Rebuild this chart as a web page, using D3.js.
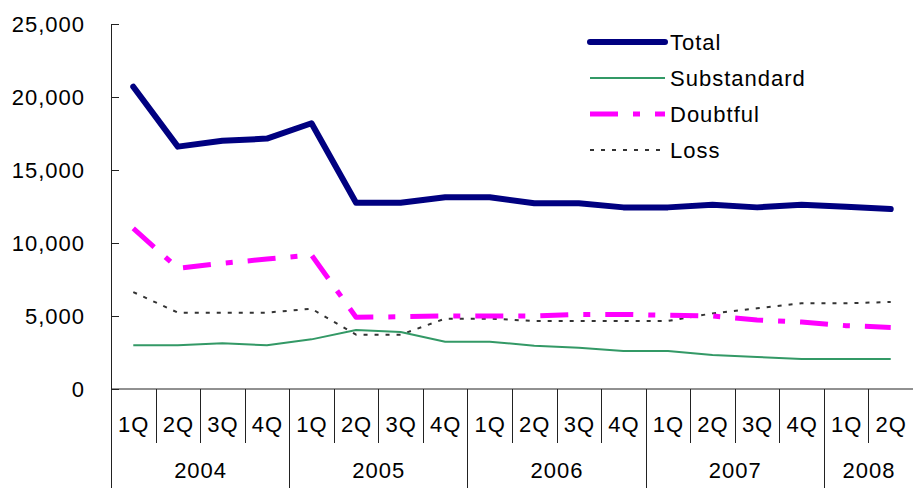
<!DOCTYPE html>
<html>
<head>
<meta charset="utf-8">
<script src="https://cdn.jsdelivr.net/npm/d3@7"></script>
<style>
  body { margin: 0; background: #fff; }
  svg { display: block; font-family: "Liberation Sans", Arial, sans-serif; }
  text { letter-spacing: 1px; }
</style>
</head>
<body>
<svg id="chart" width="913" height="488"></svg>
<script>
const years = ["2004", "2005", "2006", "2007", "2008"];
const quarters = ["1Q", "2Q", "3Q", "4Q", "1Q", "2Q", "3Q", "4Q", "1Q", "2Q", "3Q", "4Q",
  "1Q", "2Q", "3Q", "4Q", "1Q", "2Q"];
const yearOf = [0, 0, 0, 0, 1, 1, 1, 1, 2, 2, 2, 2, 3, 3, 3, 3, 4, 4];

const total = [20700, 16600, 17000, 17150, 18200, 12760, 12760, 13130, 13130,
  12720, 12720, 12440, 12440, 12620, 12440, 12620, 12490, 12330];
const substandard = [3000, 3000, 3130, 3000, 3400, 4040, 3900, 3240, 3240,
  2970, 2830, 2600, 2600, 2330, 2190, 2050, 2050, 2050];
const doubtful = [11000, 8270, 8610, 8900, 9180, 4910, 4950, 5000, 5000,
  5000, 5110, 5110, 5050, 5000, 4730, 4590, 4340, 4220];
const loss = [6640, 5230, 5230, 5230, 5500, 3720, 3720, 4820, 4820,
  4660, 4660, 4660, 4660, 5180, 5530, 5870, 5870, 5960];

const yTicks = [0, 5000, 10000, 15000, 20000, 25000];

const series = [
  { name: "Total", values: total, color: "#000080", width: 6, dash: null },
  { name: "Substandard", values: substandard, color: "#339966", width: 2, dash: null },
  { name: "Doubtful", values: doubtful, color: "#FF00FF", width: 5, dash: "28,15,7,15" },
  { name: "Loss", values: loss, color: "#333333", width: 2, dash: "4,7" }
];

const plotLeft = 111, plotRight = 913, plotTop = 24, plotBottom = 389;
const svg = d3.select("#chart");

const x = d3.scaleBand()
  .domain(d3.range(quarters.length))
  .range([plotLeft, plotRight])
  .padding(0);

const y = d3.scaleLinear()
  .domain([0, 25000])
  .range([plotBottom, plotTop]);

// y axis, ticks inward
const yAxis = svg.append("g")
  .attr("transform", `translate(${plotLeft},0)`)
  .call(d3.axisRight(y).tickValues(yTicks).tickSize(8).tickFormat(() => ""));
yAxis.select(".domain").attr("stroke", "#222");
yAxis.selectAll(".tick line").attr("stroke", "#222");

svg.append("g")
  .selectAll("text")
  .data(yTicks)
  .join("text")
  .attr("x", 85)
  .attr("y", (d) => y(d))
  .attr("dy", "0.35em")
  .attr("text-anchor", "end")
  .style("font-size", "22px")
  .attr("fill", "#000")
  .text((d) => d3.format(",")(d));

// x axis + category table
const g = svg.append("g").attr("stroke", "#222").attr("stroke-width", 1);
g.append("line").attr("x1", plotLeft).attr("x2", plotRight).attr("y1", plotBottom).attr("y2", plotBottom);
g.append("line").attr("x1", plotLeft + 0.5).attr("x2", plotLeft + 0.5).attr("y1", plotBottom).attr("y2", 488);

d3.range(1, quarters.length).forEach((i) => {
  const xx = Math.round(x(i)) + 0.5;
  const yearBreak = yearOf[i] !== yearOf[i - 1];
  g.append("line")
    .attr("x1", xx).attr("x2", xx)
    .attr("y1", plotBottom).attr("y2", yearBreak ? 488 : 443);
});

svg.append("g")
  .selectAll("text")
  .data(quarters)
  .join("text")
  .attr("x", (d, i) => x(i) + x.bandwidth() / 2 + 0.5)
  .attr("y", 432)
  .attr("text-anchor", "middle")
  .style("font-size", "22px")
  .text((d) => d);

svg.append("g")
  .selectAll("text")
  .data(years)
  .join("text")
  .attr("x", (d, i) => {
    const idx = d3.range(quarters.length).filter((k) => yearOf[k] === i);
    return (x(idx[0]) + x(idx[idx.length - 1]) + x.bandwidth()) / 2 + 0.5;
  })
  .attr("y", 478)
  .attr("text-anchor", "middle")
  .style("font-size", "22px")
  .text((d) => d);

// lines
const line = d3.line()
  .x((d, i) => x(i) + x.bandwidth() / 2)
  .y((d) => y(d));

const order = [3, 1, 2, 0];
svg.append("g")
  .selectAll("path")
  .data(order.map((k) => series[k]))
  .join("path")
  .attr("d", (d) => line(d.values))
  .attr("fill", "none")
  .attr("stroke", (d) => d.color)
  .attr("stroke-width", (d) => d.width)
  .attr("stroke-dasharray", (d) => d.dash)
  .attr("stroke-linejoin", "round")
  .attr("stroke-linecap", (d) => (d.name === "Total" ? "round" : "butt"));

// legend
const legend = svg.append("g")
  .selectAll("g")
  .data(series)
  .join("g")
  .attr("transform", (d, i) => `translate(0,${42 + i * 36})`);

legend.append("line")
  .attr("x1", 590).attr("x2", 665)
  .attr("y1", 0).attr("y2", 0)
  .attr("stroke", (d) => d.color)
  .attr("stroke-width", (d) => d.width)
  .attr("stroke-dasharray", (d) => d.dash)
  .attr("stroke-linecap", (d) => (d.name === "Total" ? "round" : "butt"));

legend.append("text")
  .attr("x", 670)
  .attr("y", 0)
  .attr("dy", "0.35em")
  .style("font-size", "22px")
  .text((d) => d.name);
</script>
</body>
</html>
